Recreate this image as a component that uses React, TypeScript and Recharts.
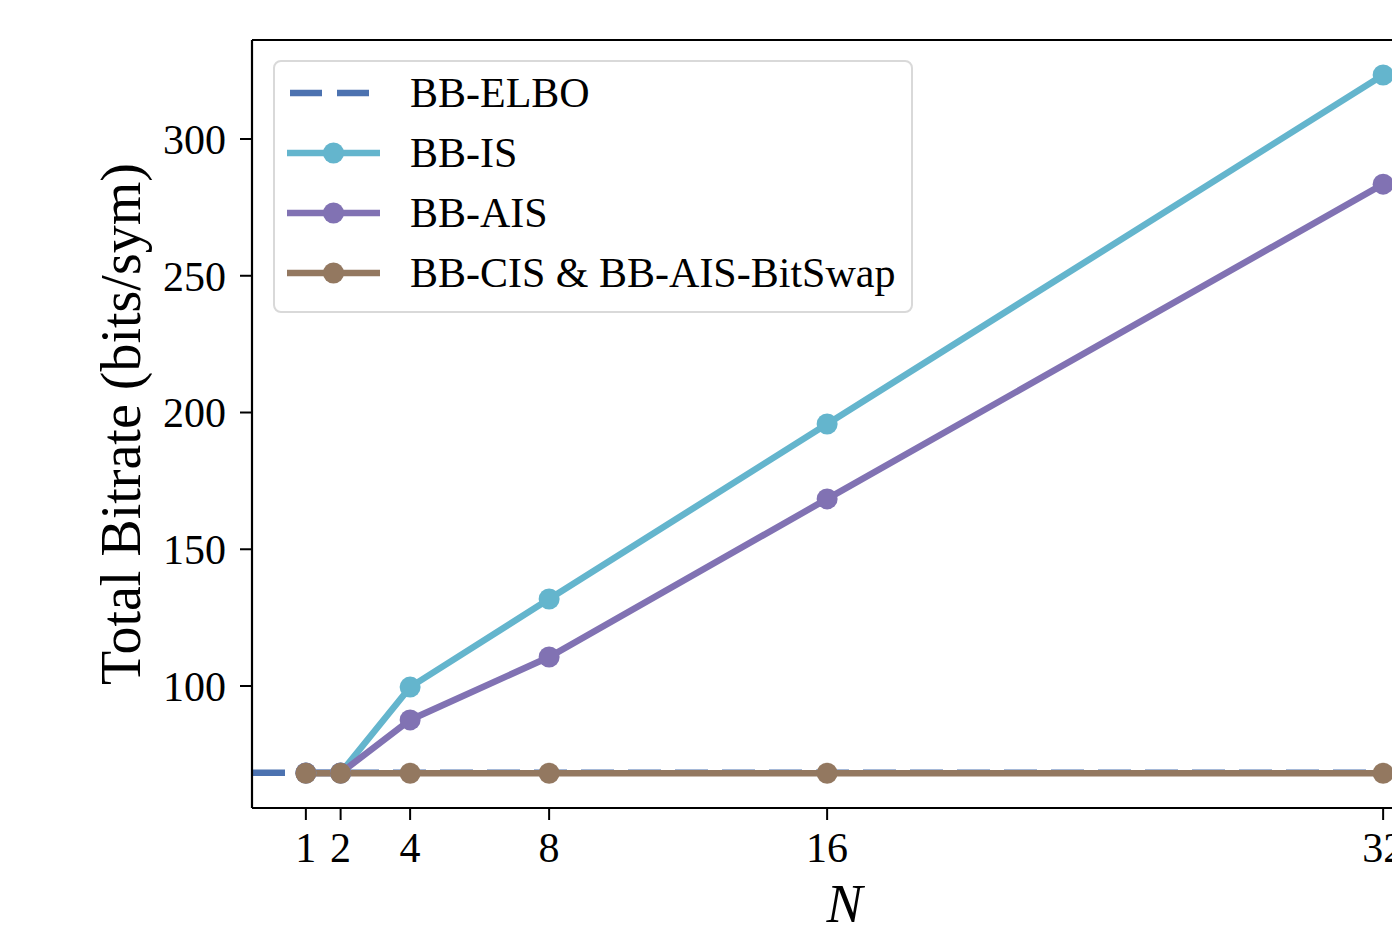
import { LineChart, Line, XAxis, YAxis, ReferenceLine, Legend } from 'recharts'

const nValues = [1, 2, 4, 8, 16, 32]
const bbIS = [68.2, 68.2, 99.6, 131.8, 195.8, 323.4]
const bbAIS = [68.2, 68.2, 87.6, 110.6, 168.4, 283.5]
const bbCIS = [68.1, 68.1, 68.1, 68.1, 68.1, 68.1]
const bbELBO = 68.3
const yTicks = [100, 150, 200, 250, 300]

const FONT = '"Liberation Serif", "Times New Roman", serif'
const X_DOMAIN: [number, number] = [-0.55, 33.55]
const Y_DOMAIN: [number, number] = [55.4, 336.2]
const LW = 6.5

const COLORS = {
  elbo: '#4C72B0',
  is: '#64B5CD',
  ais: '#8172B3',
  cis: '#937860',
}

const legendItems = [
  { label: 'BB-ELBO', color: COLORS.elbo, dashed: true },
  { label: 'BB-IS', color: COLORS.is, dashed: false },
  { label: 'BB-AIS', color: COLORS.ais, dashed: false },
  { label: 'BB-CIS & BB-AIS-BitSwap', color: COLORS.cis, dashed: false },
]

const data = nValues.map((n, i) => ({ n, is: bbIS[i], ais: bbAIS[i], cis: bbCIS[i] }))

function LegendBox() {
  return (
    <div
      style={{
        border: '2px solid #d9d9d9',
        borderRadius: 8,
        background: 'rgba(255,255,255,0.85)',
        padding: '1px 0 8px 12px',
        width: 640,
        boxSizing: 'border-box',
        fontFamily: FONT,
        fontSize: 42,
        color: '#000',
      }}
    >
      {legendItems.map((item) => (
        <div key={item.label} style={{ display: 'flex', alignItems: 'center', height: 60 }}>
          <svg width={93} height={24} style={{ flex: 'none' }}>
            <line
              x1={item.dashed ? 3 : 0}
              y1={12}
              x2={93}
              y2={12}
              stroke={item.color}
              strokeWidth={LW}
              strokeDasharray={item.dashed ? '32 15' : undefined}
            />
            {!item.dashed && <circle cx={46.5} cy={12} r={10.5} fill={item.color} />}
          </svg>
          <span style={{ marginLeft: 30, whiteSpace: 'nowrap', lineHeight: '60px' }}>{item.label}</span>
        </div>
      ))}
    </div>
  )
}

export default function App() {
  const tickStyle = { fontFamily: FONT, fontSize: 42, fill: '#000' }
  return (
    <div
      style={{
        position: 'absolute',
        left: 0,
        top: 0,
        width: 1392,
        height: 925,
        overflow: 'hidden',
        background: '#fff',
      }}
    >
      <LineChart width={1480} height={925} data={data} margin={{ top: 40, right: 43, bottom: 0, left: 0 }}>
        <XAxis
          dataKey="n"
          type="number"
          domain={X_DOMAIN}
          ticks={nValues}
          allowDataOverflow
          height={117}
          tick={tickStyle}
          tickSize={12}
          tickMargin={12}
          axisLine={{ stroke: '#000', strokeWidth: 2.2 }}
          tickLine={{ stroke: '#000', strokeWidth: 2 }}
          label={{
            value: 'N',
            position: 'insideBottom',
            offset: 3,
            style: { fontFamily: FONT, fontSize: 54, fontStyle: 'italic', fill: '#000' },
          }}
        />
        <YAxis
          type="number"
          domain={Y_DOMAIN}
          ticks={yTicks}
          allowDataOverflow
          width={252}
          tick={tickStyle}
          tickSize={12}
          tickMargin={14}
          axisLine={{ stroke: '#000', strokeWidth: 2.2 }}
          tickLine={{ stroke: '#000', strokeWidth: 2 }}
          label={{
            value: 'Total Bitrate (bits/sym)',
            angle: -90,
            position: 'center',
            dx: -6,
            style: { fontFamily: FONT, fontSize: 56, fill: '#000', textAnchor: 'middle' },
          }}
        />
        <ReferenceLine y={Y_DOMAIN[1]} stroke="#000" strokeWidth={2.2} />
        <ReferenceLine y={bbELBO} stroke={COLORS.elbo} strokeWidth={LW} strokeDasharray="33 14" />
        <Line
          dataKey="is"
          stroke={COLORS.is}
          strokeWidth={LW}
          dot={{ r: 10.5, fill: COLORS.is, stroke: 'none' }}
          isAnimationActive={false}
        />
        <Line
          dataKey="ais"
          stroke={COLORS.ais}
          strokeWidth={LW}
          dot={{ r: 10.5, fill: COLORS.ais, stroke: 'none' }}
          isAnimationActive={false}
        />
        <Line
          dataKey="cis"
          stroke={COLORS.cis}
          strokeWidth={LW}
          dot={{ r: 10.5, fill: COLORS.cis, stroke: 'none' }}
          isAnimationActive={false}
        />
        <Legend
          layout="horizontal"
          verticalAlign="middle"
          align="center"
          wrapperStyle={{ left: 273, top: 60, width: 640 }}
          content={() => <LegendBox />}
        />
      </LineChart>
    </div>
  )
}
